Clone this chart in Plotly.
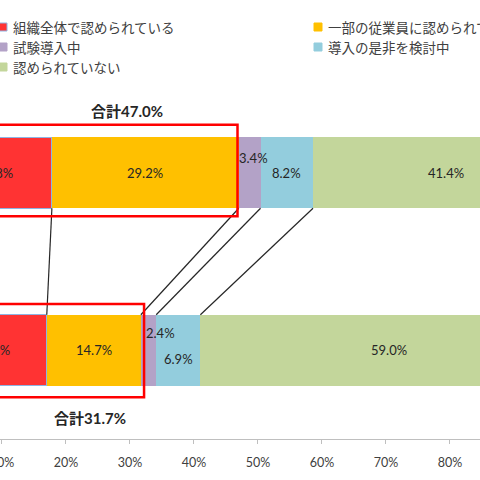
import plotly.graph_objects as go

# 回答の内訳（%）
series_names = ["組織全体で認められている", "一部の従業員に認められている",
                "試験導入中", "導入の是非を検討中", "認められていない"]
colors = ["#FF3333", "#FFC000", "#B3A2C7", "#93CDDD", "#C3D69B"]
top_vals = [17.8, 29.2, 3.4, 8.2, 41.4]
bottom_vals = [17.0, 14.7, 2.4, 6.9, 59.0]
rows = [0, 1]
x_ticks = [0, 10, 20, 30, 40, 50, 60, 70, 80, 90, 100]

W, H = 480, 480
M_T, M_B = 84, 41
BAR_W = 0.4
X_RANGE = [9.69, 84.69]
NUM_FONT = "Lato, Noto Sans CJK JP"

fig = go.Figure()

for i, name in enumerate(series_names):
    fig.add_trace(go.Bar(
        y=rows, x=[top_vals[i], bottom_vals[i]], name=name, orientation="h",
        width=BAR_W, showlegend=False,
        marker=dict(color=colors[i],
                    line=dict(color="#8EB4E3" if i == 0 else colors[i], width=1 if i == 0 else 0)),
    ))


def cum(vals):
    out, s = [], 0
    for v in vals:
        s += v
        out.append(round(s, 1))
    return out


top_cum = cum(top_vals)
bot_cum = cum(bottom_vals)

# 系列線
for i in range(4):
    fig.add_trace(go.Scatter(
        x=[top_cum[i], bot_cum[i]], y=[BAR_W / 2, 1 - BAR_W / 2], mode="lines",
        line=dict(color="#262626", width=1.2), showlegend=False, hoverinfo="skip",
    ))


def xp(v):
    # 軸の値 -> paper座標（範囲外のラベルも消えないように）
    return (v - X_RANGE[0]) / (X_RANGE[1] - X_RANGE[0])


# データラベル（小さい区間だけずらす）
label_shift = {(0, 2): (4, -15), (1, 2): (12, -17), (1, 3): (0, 9)}
annos = []
for r, vals, cums in [(0, top_vals, top_cum), (1, bottom_vals, bot_cum)]:
    for i, v in enumerate(vals):
        dx, dy = label_shift.get((r, i), (0, 0))
        annos.append(dict(xref="paper", x=xp(cums[i] - v / 2), y=r, text=f"{v:.1f}%",
                          xanchor="center", yanchor="middle",
                          showarrow=False, xshift=dx, yshift=-dy,
                          font=dict(size=13, color="#262626", family=NUM_FONT)))

# 合計の枠と文字
tot_top = top_cum[1]
tot_bot = bot_cum[1]
shapes = [
    dict(type="rect", x0=-5, x1=tot_top - 0.2, y0=-0.27, y1=0.245,
         line=dict(color="#FF0000", width=2.5)),
    dict(type="rect", x0=-5, x1=tot_bot + 0.5, y0=1 - 0.26, y1=1.265,
         line=dict(color="#FF0000", width=2.5)),
]
annos.append(dict(x=29.5, y=-0.35, text=f"<b>合計{tot_top:.1f}%</b>", showarrow=False,
                  font=dict(size=15, color="#262626", family=NUM_FONT)))
annos.append(dict(x=23.7, y=1.38, text=f"<b>合計{tot_bot:.1f}%</b>", showarrow=False,
                  font=dict(size=15, color="#262626", family=NUM_FONT)))

# 凡例（手描き）
plot_h = H - M_T - M_B


def py(p):
    return (H - M_B - p) / plot_h


legend_pos = [(0, 27), (315, 27), (0, 47), (315, 47), (0, 67)]
for (lx, ly), name, c in zip(legend_pos, series_names, colors):
    shapes.append(dict(type="rect", xref="paper", yref="paper",
                       x0=(lx - 1) / W, x1=(lx + 7) / W, y0=py(ly + 4), y1=py(ly - 4),
                       fillcolor=c, line=dict(color="#8EB4E3" if c == colors[0] else c, width=1)))
    annos.append(dict(xref="paper", yref="paper", x=(lx + 11) / W, y=py(ly),
                      xanchor="left", yanchor="middle", text=name, showarrow=False,
                      font=dict(size=13.5, color="#404040", family="Noto Sans CJK JP")))

fig.update_layout(
    barmode="stack",
    width=W, height=H,
    margin=dict(l=0, r=0, t=M_T, b=M_B),
    plot_bgcolor="white", paper_bgcolor="white",
    shapes=shapes, annotations=annos,
    xaxis=dict(range=X_RANGE, tickvals=x_ticks, ticktext=[f"{t}%" for t in x_ticks],
               showgrid=False, zeroline=False, showline=True, linecolor="#BFBFBF",
               ticks="outside", ticklen=4, tickcolor="#BFBFBF", ticklabelstandoff=8,
               ticklabeloverflow="allow", automargin=False,
               tickfont=dict(size=12.5, color="#404040", family="Lato")),
    yaxis=dict(range=[1.5, -0.5], showticklabels=False, showgrid=False, zeroline=False,
               showline=False, automargin=False),
)

# ページ余白を消して480x480にぴったり合わせる
fig.write_html("out.html", config={"displayModeBar": False},
               post_script="document.body.style.margin='0';")
